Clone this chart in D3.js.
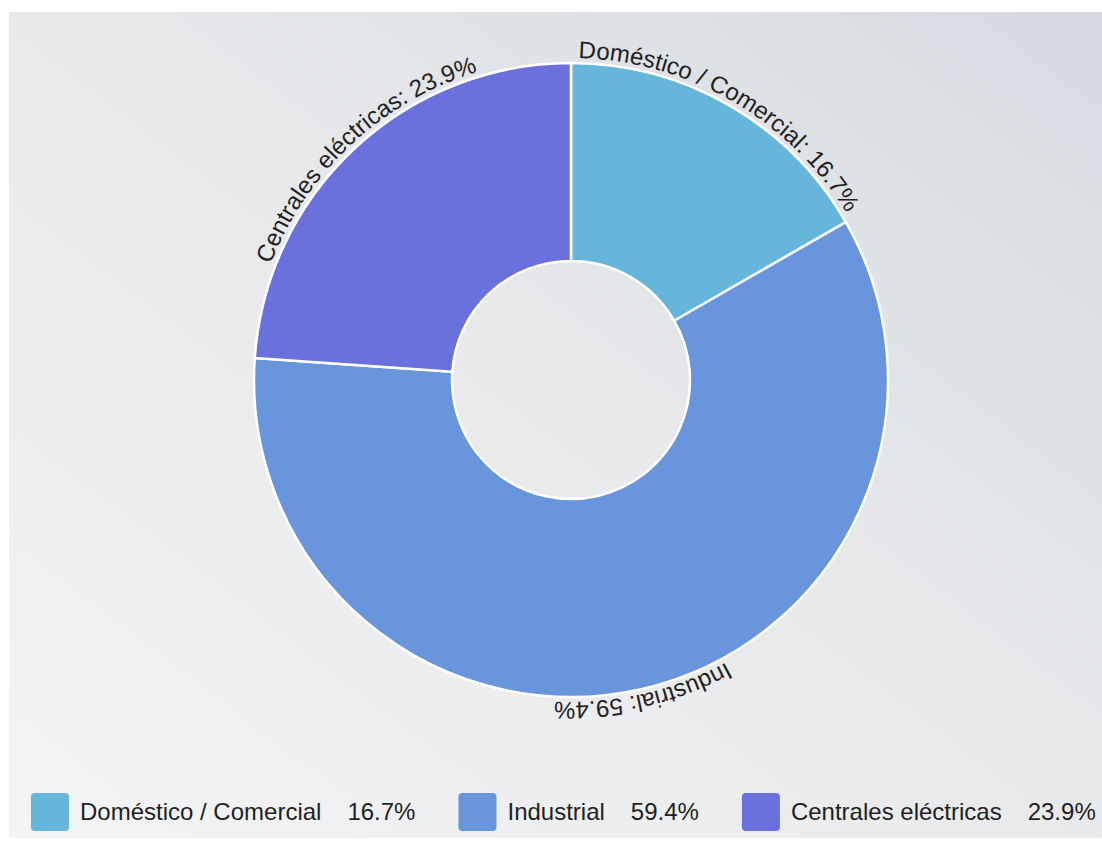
<!DOCTYPE html>
<html>
<head>
<meta charset="utf-8">
<script src="https://cdn.jsdelivr.net/npm/d3@7"></script>
<style>
  html, body { margin: 0; padding: 0; background: #ffffff; }
  svg { display: block; }
  text { font-family: "Liberation Sans", Arial, sans-serif; fill: #1f1f1f; }
</style>
</head>
<body>
<svg id="chart" width="1102" height="844"></svg>
<script>
// Energy consumption share by sector
const categories = ["Doméstico / Comercial", "Industrial", "Centrales eléctricas"];
const shares = [16.7, 59.4, 23.9];
const sliceColors = ["#66b6dc", "#6895db", "#6a71dc"];

const W = 1102, H = 844;
const cx = 571, cy = 380;
const outerR = 317, innerR = 119, labelR = 322;
const fontSize = 24;

const svg = d3.select("#chart");

// panel background gradient
const defs = svg.append("defs");
const grad = defs.append("linearGradient")
  .attr("id", "bg")
  .attr("x1", "0").attr("y1", "1").attr("x2", "1").attr("y2", "0");
grad.append("stop").attr("offset", "0%").attr("stop-color", "#f3f4f5");
grad.append("stop").attr("offset", "55%").attr("stop-color", "#e6e8ea");
grad.append("stop").attr("offset", "100%").attr("stop-color", "#d6dae0");

svg.append("rect")
  .attr("x", 9).attr("y", 12)
  .attr("width", W - 9).attr("height", 838 - 12)
  .attr("fill", "url(#bg)");

const color = d3.scaleOrdinal().domain(categories).range(sliceColors);

const pie = d3.pie().sort(null).value(d => d.value);
const data = categories.map((c, i) => ({ name: c, value: shares[i] }));
const arcs = pie(data);

const arc = d3.arc().innerRadius(innerR).outerRadius(outerR);

const g = svg.append("g").attr("transform", `translate(${cx},${cy})`);

g.selectAll("path.slice")
  .data(arcs)
  .enter().append("path")
  .attr("class", "slice")
  .attr("d", arc)
  .attr("fill", d => color(d.data.name))
  .attr("stroke", "#ffffff")
  .attr("stroke-width", 2.5)
  .attr("stroke-linejoin", "round");

// circular guide for the curved labels, clockwise from 12 o'clock
g.append("path")
  .attr("id", "labelPath")
  .attr("fill", "none")
  .attr("d", `M 0,${-labelR} A ${labelR},${labelR} 0 1 1 0,${labelR} A ${labelR},${labelR} 0 1 1 0,${-labelR}`);

const fmt = v => v.toFixed(1) + "%";

g.selectAll("text.arcLabel")
  .data(arcs)
  .enter().append("text")
  .attr("class", "arcLabel")
  .style("font-size", fontSize + "px")
  .append("textPath")
  .attr("href", "#labelPath")
  .attr("text-anchor", "middle")
  .attr("startOffset", d => ((d.startAngle + d.endAngle) / 2) * labelR)
  .text(d => `${d.data.name}: ${fmt(d.data.value)}`);

// legend row
const legend = svg.append("g").attr("transform", "translate(31,793)");
const sw = 38;
let x = 0;
data.forEach(d => {
  const item = legend.append("g").attr("transform", `translate(${x},0)`);
  item.append("rect")
    .attr("width", sw).attr("height", sw)
    .attr("rx", 4).attr("ry", 4)
    .attr("fill", color(d.name));
  const lbl = item.append("text")
    .attr("x", sw + 11).attr("y", sw / 2)
    .attr("dy", "0.35em")
    .style("font-size", fontSize + "px")
    .text(d.name);
  const lw = lbl.node().getComputedTextLength();
  const pct = item.append("text")
    .attr("x", sw + 11 + lw + 26).attr("y", sw / 2)
    .attr("dy", "0.35em")
    .style("font-size", fontSize + "px")
    .text(fmt(d.value));
  const pw = pct.node().getComputedTextLength();
  x += sw + 11 + lw + 26 + pw + 43;
});
</script>
</body>
</html>
